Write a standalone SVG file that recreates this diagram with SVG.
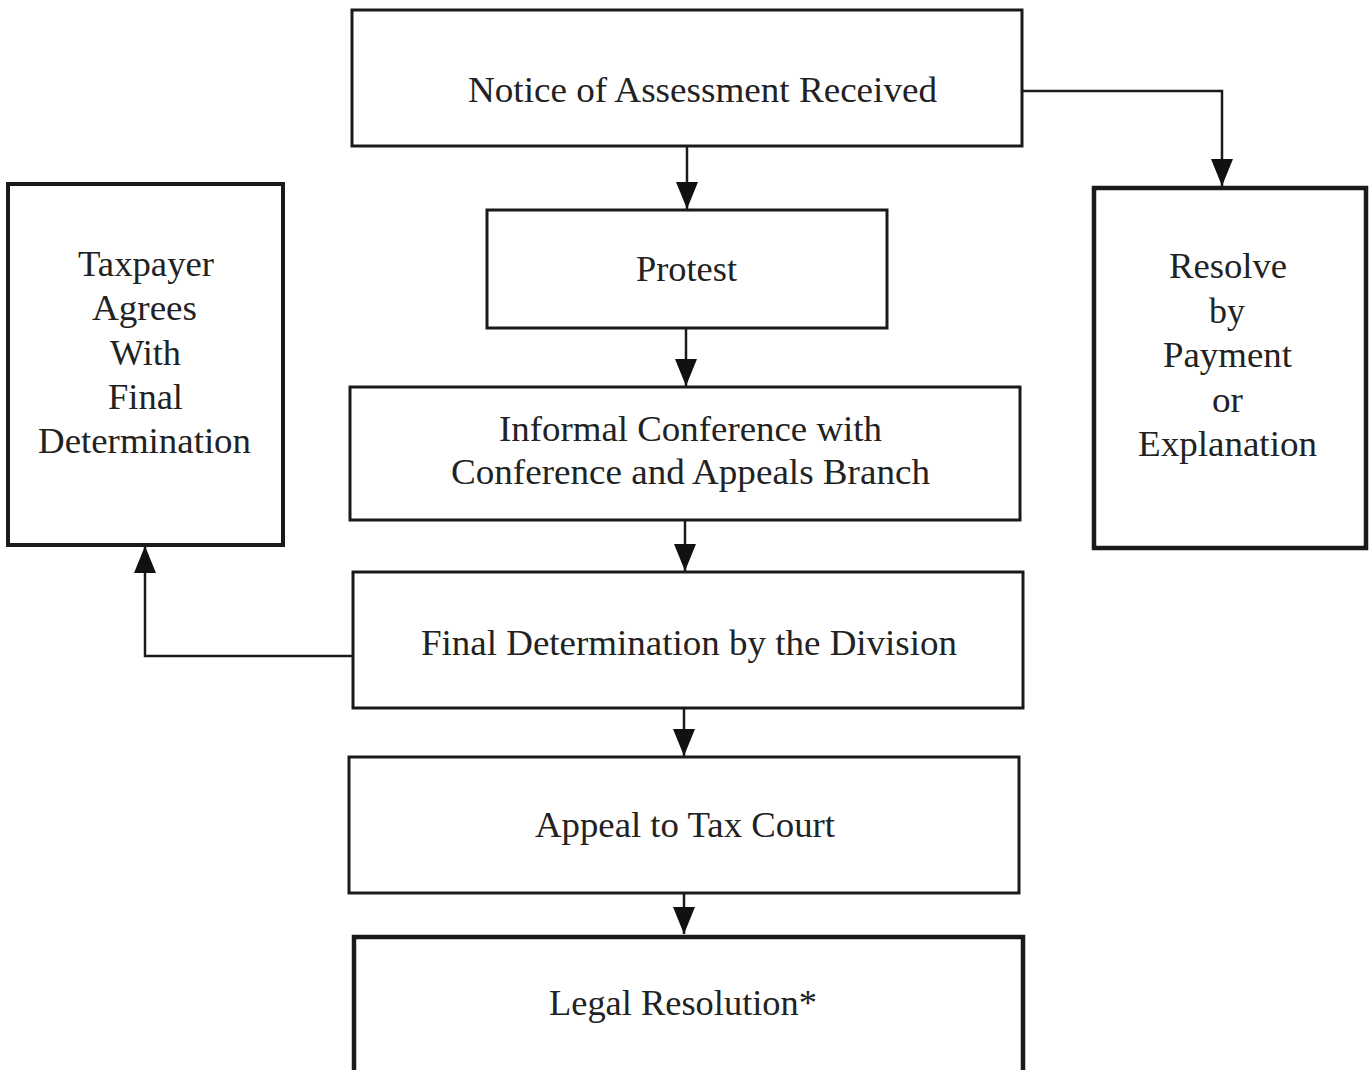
<svg xmlns="http://www.w3.org/2000/svg" width="1371" height="1070" viewBox="0 0 1371 1070">
<style>
  .box { fill: #fff; stroke: #1a1a1a; stroke-width: 3; }
  .thick { stroke-width: 4.5; }
  .lbl { font-family: "Liberation Serif", "Times New Roman", serif; font-size: 35px; fill: #222; text-anchor: middle; }
  .conn { fill: none; stroke: #1a1a1a; stroke-width: 2.5; }
</style>
<defs>
  <marker id="arr" viewBox="0 0 27 22" refX="27" refY="11" markerWidth="27" markerHeight="22" markerUnits="userSpaceOnUse" orient="auto">
    <path d="M0,0 L27,11 L0,22 z" fill="#111"/>
  </marker>
</defs>
<rect width="1371" height="1070" fill="#fff"/>

<g id="connectors">
  <path class="conn" d="M687,147 V209" marker-end="url(#arr)"/>
  <path class="conn" d="M1022,91 H1222 V186" marker-end="url(#arr)"/>
  <path class="conn" d="M686,329 V386" marker-end="url(#arr)"/>
  <path class="conn" d="M685,521 V571" marker-end="url(#arr)"/>
  <path class="conn" d="M684,709 V756" marker-end="url(#arr)"/>
  <path class="conn" d="M684,894 V934" marker-end="url(#arr)"/>
  <path class="conn" d="M353,656 H145 V546" marker-end="url(#arr)"/>
</g>

<g id="notice">
  <rect class="box" x="352" y="10" width="670" height="136"/>
  <text class="lbl" x="702.5" y="102" textLength="469" lengthAdjust="spacingAndGlyphs">Notice of Assessment Received</text>
</g>
<g id="protest">
  <rect class="box" x="487" y="210" width="400" height="118"/>
  <text class="lbl" x="686.5" y="281" textLength="101" lengthAdjust="spacingAndGlyphs">Protest</text>
</g>
<g id="informal">
  <rect class="box" x="350" y="387" width="670" height="133"/>
  <text class="lbl" x="690.5" y="441" textLength="383" lengthAdjust="spacingAndGlyphs">Informal Conference with</text>
  <text class="lbl" x="690.5" y="484" textLength="479" lengthAdjust="spacingAndGlyphs">Conference and Appeals Branch</text>
</g>
<g id="final">
  <rect class="box" x="353" y="572" width="670" height="136"/>
  <text class="lbl" x="689" y="655" textLength="536" lengthAdjust="spacingAndGlyphs">Final Determination by the Division</text>
</g>
<g id="appeal">
  <rect class="box" x="349" y="757" width="670" height="136"/>
  <text class="lbl" x="685" y="837" textLength="300" lengthAdjust="spacingAndGlyphs">Appeal to Tax Court</text>
</g>
<g id="legal">
  <rect class="box thick" x="354" y="937" width="669" height="140"/>
  <text class="lbl" x="683" y="1015" textLength="268" lengthAdjust="spacingAndGlyphs">Legal Resolution*</text>
</g>
<g id="taxpayer">
  <rect class="box" style="stroke-width:4" x="8" y="184" width="275" height="361"/>
  <text class="lbl" x="146" y="276" textLength="136" lengthAdjust="spacingAndGlyphs">Taxpayer</text>
  <text class="lbl" x="144.5" y="320" textLength="105" lengthAdjust="spacingAndGlyphs">Agrees</text>
  <text class="lbl" x="145.5" y="365" textLength="71" lengthAdjust="spacingAndGlyphs">With</text>
  <text class="lbl" x="145.5" y="409" textLength="75" lengthAdjust="spacingAndGlyphs">Final</text>
  <text class="lbl" x="144.5" y="453" textLength="213" lengthAdjust="spacingAndGlyphs">Determination</text>
</g>
<g id="resolve">
  <rect class="box thick" x="1094" y="188" width="272" height="360"/>
  <text class="lbl" x="1228" y="278" textLength="118" lengthAdjust="spacingAndGlyphs">Resolve</text>
  <text class="lbl" x="1227" y="323" textLength="36" lengthAdjust="spacingAndGlyphs">by</text>
  <text class="lbl" x="1227.5" y="367" textLength="129" lengthAdjust="spacingAndGlyphs">Payment</text>
  <text class="lbl" x="1227.5" y="412" textLength="31" lengthAdjust="spacingAndGlyphs">or</text>
  <text class="lbl" x="1227.5" y="456" textLength="179" lengthAdjust="spacingAndGlyphs">Explanation</text>
</g>
</svg>
